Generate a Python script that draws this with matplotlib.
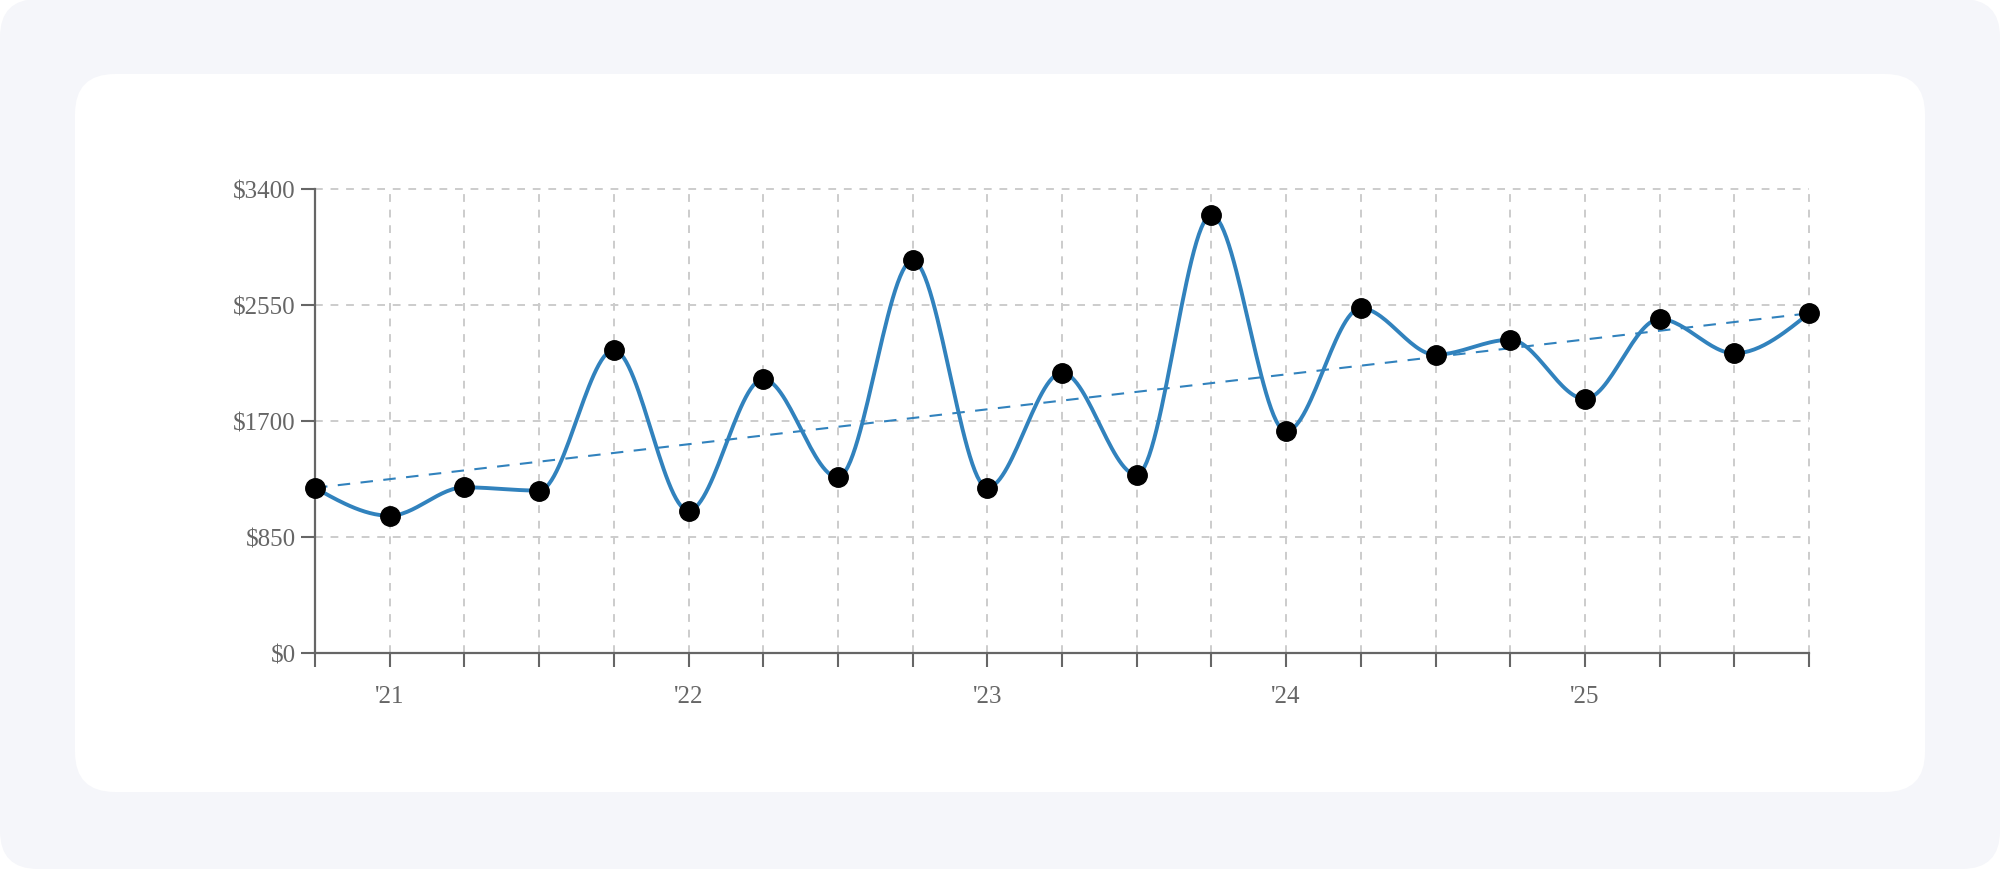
import matplotlib.pyplot as plt
import numpy as np
from matplotlib.patches import FancyBboxPatch

# quarterly values, Q4 2020 .. Q4 2025
quarters = ["Q4'20", "Q1'21", "Q2'21", "Q3'21", "Q4'21", "Q1'22", "Q2'22", "Q3'22", "Q4'22",
            "Q1'23", "Q2'23", "Q3'23", "Q4'23", "Q1'24", "Q2'24", "Q3'24", "Q4'24",
            "Q1'25", "Q2'25", "Q3'25", "Q4'25"]
values = [1212, 1008, 1216, 1192, 2221, 1046, 2008, 1289, 2877, 1214, 2055, 1308, 3210,
          1626, 2527, 2187, 2297, 1864, 2448, 2197, 2490]
year_labels = {1: "'21", 5: "'22", 9: "'23", 13: "'24", 17: "'25"}
y_ticks = [0, 850, 1700, 2550, 3400]

LINE = "#3182bd"
AXIS = "#666666"
GRID = "#cccccc"


def monotone_x(x, y, n=30):
    # d3 curveMonotoneX style (Steffen) interpolation
    x = np.asarray(x, float)
    y = np.asarray(y, float)
    h = np.diff(x)
    s = np.diff(y) / h
    t = np.zeros_like(y)
    for i in range(1, len(y) - 1):
        p = (s[i - 1] * h[i] + s[i] * h[i - 1]) / (h[i - 1] + h[i])
        t[i] = (np.sign(s[i - 1]) + np.sign(s[i])) * min(abs(s[i - 1]), abs(s[i]), 0.5 * abs(p))
    t[0] = (3 * s[0] - t[1]) / 2
    t[-1] = (3 * s[-1] - t[-2]) / 2
    xs, ys = [], []
    for i in range(len(h)):
        u = np.linspace(0, 1, n, endpoint=False)
        h00 = 2 * u**3 - 3 * u**2 + 1
        h10 = u**3 - 2 * u**2 + u
        h01 = -2 * u**3 + 3 * u**2
        h11 = u**3 - u**2
        xs.append(x[i] + u * h[i])
        ys.append(h00 * y[i] + h10 * h[i] * t[i] + h01 * y[i + 1] + h11 * h[i] * t[i + 1])
    xs.append([x[-1]])
    ys.append([y[-1]])
    return np.concatenate(xs), np.concatenate(ys)


plt.rcParams["font.family"] = ["Liberation Serif", "DejaVu Serif"]

fig = plt.figure(figsize=(20, 8.7), dpi=100)
fig.patch.set_facecolor("white")

# page background and card, in pixel units
bg = fig.add_axes([0, 0, 1, 1], zorder=-1)
bg.set_xlim(0, 2000)
bg.set_ylim(0, 870)
bg.axis("off")
bg.add_patch(FancyBboxPatch((0, 0), 2000, 870, boxstyle="round,pad=0,rounding_size=38",
                            facecolor="#f5f6fa", edgecolor="none"))
bg.add_patch(FancyBboxPatch((75, 77), 1850, 718, boxstyle="round,pad=0,rounding_size=40",
                            facecolor="white", edgecolor="none"))

ax = fig.add_axes([0.1575, 0.2478, 0.747, 0.5338])
ax.set_facecolor("none")

x = np.arange(len(values))
ax.set_xlim(0, len(values) - 1)
ax.set_ylim(0, 3400)

# grid
for xv in x[1:]:
    ax.axvline(xv, color=GRID, lw=1.4, ls=(0, (4, 4)), zorder=1)
for yv in y_ticks[1:]:
    ax.axhline(yv, color=GRID, lw=1.4, ls=(0, (4, 4)), zorder=1)

# trend line, first to last value
ax.plot([x[0], x[-1]], [values[0], values[-1]], color=LINE, lw=1.5, ls=(0, (6, 5)), zorder=2)

cx, cy = monotone_x(x, values)
ax.plot(cx, cy, color=LINE, lw=2.8, zorder=3, solid_capstyle="round")
ax.plot(x, values, "o", color="black", ms=14, zorder=4)

for sp in ["top", "right"]:
    ax.spines[sp].set_visible(False)
for sp in ["left", "bottom"]:
    ax.spines[sp].set_color(AXIS)
    ax.spines[sp].set_linewidth(1.6)

ax.set_xticks(x)
ax.set_xticklabels([year_labels.get(i, "") for i in x])
ax.set_yticks(y_ticks)
ax.set_yticklabels([f"${v}" for v in y_ticks])
ax.tick_params(axis="x", length=10, width=1.5, color=AXIS, labelcolor=AXIS, labelsize=18, pad=13)
ax.tick_params(axis="y", length=10, width=1.5, color=AXIS, labelcolor=AXIS, labelsize=18, pad=4)
for m in ax.lines:
    m.set_clip_on(False)

fig.savefig("out.png", dpi=100, facecolor=fig.get_facecolor())
